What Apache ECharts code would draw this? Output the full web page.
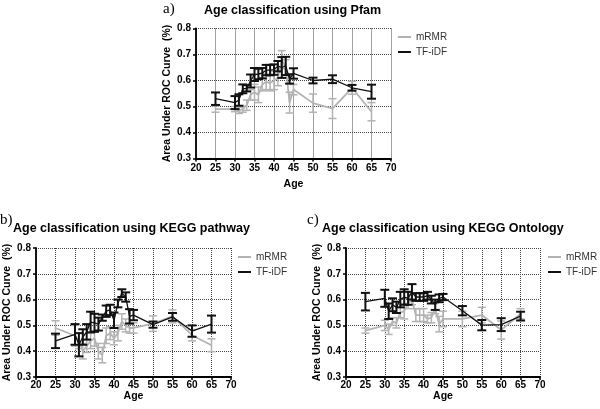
<!DOCTYPE html>
<html>
<head>
<meta charset="utf-8">
<script src="https://cdn.jsdelivr.net/npm/echarts@6/dist/echarts.min.js"></script>
<style>html,body{margin:0;padding:0;background:#fff;}#c{width:600px;height:409px;}</style>
</head>
<body>
<div id="c"></div>
<script>
// ---- data ----
const ages = [25,30,31,32,33,34,35,36,37,38,39,40,41,42,43,44,45,50,55,60,65];
const xTicks = [20,25,30,35,40,45,50,55,60,65,70];
const yTicks = [0.3,0.4,0.5,0.6,0.7,0.8];

// Panel a: Pfam
const pfamTfidf    = [0.53,0.515,0.525,0.568,0.57,0.598,0.623,0.625,0.628,0.64,0.64,0.642,0.655,0.65,0.656,0.606,0.627,0.600,0.605,0.572,0.557];
const pfamTfidfErr = [0.024,0.025,0.022,0.017,0.012,0.025,0.025,0.02,0.02,0.02,0.02,0.02,0.02,0.04,0.035,0.018,0.02,0.011,0.015,0.011,0.027];
const pfamMrmr     = [0.49,0.49,0.485,0.49,0.505,0.545,0.555,0.545,0.585,0.595,0.59,0.60,0.61,0.68,0.65,0.515,0.565,0.513,0.492,0.572,0.48];
const pfamMrmrErr  = [0.012,0.01,0.012,0.012,0.02,0.02,0.03,0.03,0.025,0.03,0.03,0.035,0.03,0.035,0.03,0.04,0.02,0.035,0.038,0.025,0.035];

// Panel b: KEGG pathway
const kpTfidf    = [0.44,0.465,0.425,0.455,0.475,0.513,0.51,0.505,0.53,0.555,0.56,0.52,0.585,0.625,0.61,0.535,0.54,0.503,0.533,0.478,0.505];
const kpTfidfErr = [0.028,0.04,0.045,0.03,0.03,0.04,0.035,0.025,0.012,0.022,0.02,0.03,0.015,0.015,0.018,0.028,0.02,0.012,0.015,0.022,0.033];
const kpMrmr     = [0.49,0.46,0.44,0.40,0.42,0.44,0.45,0.40,0.385,0.46,0.47,0.45,0.47,0.515,0.50,0.49,0.49,0.507,0.535,0.462,0.423];
const kpMrmrErr  = [0.028,0.04,0.03,0.03,0.025,0.03,0.03,0.03,0.03,0.03,0.025,0.025,0.03,0.03,0.025,0.02,0.02,0.03,0.025,0.022,0.025];

// Panel c: KEGG Ontology
const koTfidf    = [0.592,0.605,0.555,0.58,0.57,0.60,0.61,0.605,0.63,0.61,0.61,0.61,0.615,0.60,0.58,0.605,0.61,0.557,0.501,0.503,0.536];
const koTfidfErr = [0.034,0.033,0.03,0.025,0.022,0.03,0.03,0.025,0.03,0.015,0.015,0.015,0.015,0.015,0.02,0.015,0.012,0.018,0.02,0.025,0.017];
const koMrmr     = [0.48,0.50,0.485,0.515,0.51,0.55,0.555,0.585,0.60,0.54,0.54,0.54,0.525,0.53,0.565,0.505,0.525,0.525,0.54,0.482,0.545];
const koMrmrErr  = [0.01,0.02,0.02,0.015,0.02,0.02,0.03,0.02,0.02,0.025,0.025,0.025,0.015,0.02,0.02,0.03,0.03,0.03,0.03,0.035,0.02];

const panelLetters = ['a)','b)','c)'];
const panelTitles = ['Age classification using Pfam','Age classification using KEGG pathway','Age classification using KEGG Ontology'];
const seriesNames = ['mRMR','TF-iDF'];
const xName = 'Age';
const yName = 'Area Under ROC Curve  (%)';

// ---- layout / style ----
const SANS = 'Liberation Sans, Arial, sans-serif';
const SERIF = 'Liberation Serif, Times New Roman, serif';
const GRAY = '#b3b3b3';
const BLACK = '#111111';

const panels = [
  {grid:{left:196,top:28.5,width:195,height:130}, tfidf:pfamTfidf, tfidfErr:pfamTfidfErr, mrmr:pfamMrmr, mrmrErr:pfamMrmrErr,
   letter:{left:163,top:2}, title:{left:204,top:4}, legend:{left:398,top:31}, xNameGap:20, xLabelMargin:5},
  {grid:{left:36,top:248,width:195,height:129}, tfidf:kpTfidf, tfidfErr:kpTfidfErr, mrmr:kpMrmr, mrmrErr:kpMrmrErr,
   letter:{left:0,top:213}, title:{left:13,top:222}, legend:{left:238,top:251}, xNameGap:13, xLabelMargin:3},
  {grid:{left:346,top:248,width:194,height:129}, tfidf:koTfidf, tfidfErr:koTfidfErr, mrmr:koMrmr, mrmrErr:koMrmrErr,
   letter:{left:307,top:213}, title:{left:322,top:222}, legend:{left:548,top:251}, xNameGap:13, xLabelMargin:3}
];

function errRender(color, cap, lw) {
  return function (params, api) {
    const x = api.value(0), y = api.value(1), e = api.value(2);
    const t = api.coord([x, y + e]);
    const b = api.coord([x, y - e]);
    const h = cap / 2;
    const st = {stroke: color, lineWidth: lw};
    return {type:'group', children:[
      {type:'line', shape:{x1:t[0],y1:t[1],x2:b[0],y2:b[1]}, style:st},
      {type:'line', shape:{x1:t[0]-h,y1:t[1],x2:t[0]+h,y2:t[1]}, style:st},
      {type:'line', shape:{x1:b[0]-h,y1:b[1],x2:b[0]+h,y2:b[1]}, style:st}
    ]};
  };
}

const option = {
  backgroundColor:'#fff',
  animation:false,
  title:[], grid:[], xAxis:[], yAxis:[], legend:[], series:[]
};

panels.forEach((p, i) => {
  option.title.push({text:panelLetters[i], left:p.letter.left, top:p.letter.top, padding:0,
    textStyle:{fontFamily:SERIF, fontSize:15, fontWeight:'normal', color:'#000'}});
  option.title.push({text:panelTitles[i], left:p.title.left, top:p.title.top, padding:0,
    textStyle:{fontFamily:SANS, fontSize:12.5, fontWeight:'bold', color:'#000'}});
  option.grid.push(Object.assign({containLabel:false}, p.grid));
  option.xAxis.push({type:'value', gridIndex:i, min:xTicks[0], max:xTicks[xTicks.length-1], interval:5,
    name:xName, nameLocation:'middle', nameGap:p.xNameGap,
    nameTextStyle:{fontFamily:SANS, fontSize:10.5, fontWeight:'bold', color:'#000'},
    axisLine:{show:true, onZero:false, lineStyle:{color:'#000', width:1.8}},
    axisTick:{show:true, length:3, lineStyle:{color:'#000', width:1.5}},
    axisLabel:{fontFamily:SANS, fontSize:10, fontWeight:'bold', color:'#000', margin:p.xLabelMargin},
    splitLine:{show:true, lineStyle:{type:'dotted', color:'#444', width:1}}});
  option.yAxis.push({type:'value', gridIndex:i, min:yTicks[0], max:yTicks[yTicks.length-1], interval:0.1,
    name:yName, nameLocation:'middle', nameGap:23,
    nameTextStyle:{fontFamily:SANS, fontSize:10.5, fontWeight:'bold', color:'#000'},
    axisLine:{show:true, onZero:false, lineStyle:{color:'#000', width:1.8}},
    axisTick:{show:true, length:3, lineStyle:{color:'#000', width:1.5}},
    axisLabel:{fontFamily:SANS, fontSize:10, fontWeight:'bold', color:'#000', margin:5,
      formatter:v => v.toFixed(1)},
    splitLine:{show:true, lineStyle:{type:'dotted', color:'#444', width:1}}});
  option.legend.push({data:seriesNames, orient:'vertical', left:p.legend.left, top:p.legend.top,
    padding:0, itemGap:3, icon:'rect', itemWidth:13, itemHeight:2,
    textStyle:{fontFamily:SANS, fontSize:10, color:'#333', lineHeight:12}});

  const mrmrPts = ages.map((a, k) => [a, p.mrmr[k]]);
  const mrmrErr = ages.map((a, k) => [a, p.mrmr[k], p.mrmrErr[k]]);
  const tfPts = ages.map((a, k) => [a, p.tfidf[k]]);
  const tfErr = ages.map((a, k) => [a, p.tfidf[k], p.tfidfErr[k]]);

  option.series.push({name:seriesNames[0], type:'line', xAxisIndex:i, yAxisIndex:i, data:mrmrPts,
    symbol:'none', color:GRAY, itemStyle:{color:GRAY}, lineStyle:{color:GRAY, width:1.8}, z:2});
  option.series.push({name:'mRMR err '+i, type:'custom', xAxisIndex:i, yAxisIndex:i, data:mrmrErr,
    renderItem:errRender(GRAY, 8, 1.5), encode:{x:0, y:1}, z:2});
  option.series.push({name:seriesNames[1], type:'line', xAxisIndex:i, yAxisIndex:i, data:tfPts,
    symbol:'none', color:BLACK, itemStyle:{color:BLACK}, lineStyle:{color:BLACK, width:1.3}, z:3});
  option.series.push({name:'TF-iDF err '+i, type:'custom', xAxisIndex:i, yAxisIndex:i, data:tfErr,
    renderItem:errRender(BLACK, 9, 2), encode:{x:0, y:1}, z:3});
});

const chart = echarts.init(document.getElementById('c'), null, {renderer:'canvas'});
chart.setOption(option);
</script>
</body>
</html>
